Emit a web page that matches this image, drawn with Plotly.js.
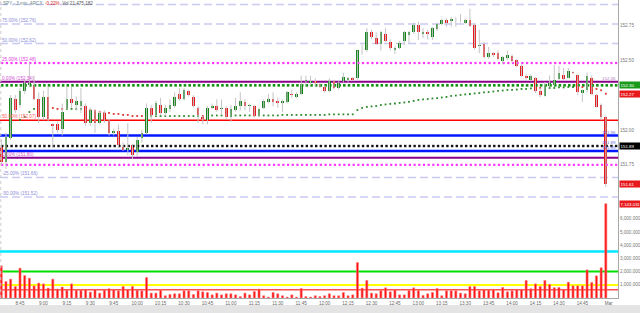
<!DOCTYPE html>
<html><head><meta charset="utf-8">
<script src="https://cdn.plot.ly/plotly-3.0.1.min.js"></script>
<style>html,body{margin:0;padding:0;background:#fff;}#chart{width:640px;height:313px;}</style>
</head><body><div id="chart"></div>
<script>
// ---- data: SPY 3-min bars, bar 1 = 8:33 ... bar 130 = 15:00 ----
const openP = [151.88,151.77,151.94,152.22,152.18,152.28,152.32,152.32,152.22,152.09,
152.24,152.04,152.04,152.01,152.16,152.22,152.18,152.17,152.17,152.05,
152.13,152.05,152.12,152.07,151.98,151.99,151.88,151.86,151.89,151.84,
151.94,151.98,152.16,152.11,152.18,152.12,152.15,152.17,152.26,152.22,
152.28,152.24,152.16,152.09,152.07,152.16,152.17,152.15,152.16,152.09,
152.14,152.17,152.20,152.17,152.17,152.10,152.16,152.20,152.22,152.21,
152.19,152.20,152.26,152.24,152.26,152.35,152.34,152.35,152.33,152.31,
152.28,152.35,152.30,152.35,152.36,152.37,152.37,152.57,152.57,152.70,
152.66,152.62,152.69,152.63,152.575,152.59,152.64,152.68,152.70,152.755,
152.69,152.70,152.67,152.725,152.76,152.79,152.78,152.78,152.78,152.77,
152.79,152.75,152.60,152.62,152.52,152.55,152.55,152.495,152.515,152.53,
152.50,152.46,152.39,152.36,152.37,152.28,152.245,152.315,152.325,152.365,
152.395,152.375,152.415,152.395,152.265,152.285,152.37,152.25,152.18,152.09];
const highP = [151.93,151.98,152.25,152.25,152.30,152.36,152.48,152.39,152.27,152.28,
152.31,152.05,152.06,152.19,152.31,152.31,152.24,152.30,152.19,152.16,
152.15,152.14,152.14,152.08,152.01,152.04,151.91,152.05,151.90,151.95,
152.00,152.19,152.18,152.21,152.23,152.18,152.22,152.27,152.30,152.30,
152.29,152.25,152.17,152.10,152.17,152.19,152.22,152.22,152.17,152.18,
152.23,152.27,152.22,152.19,152.18,152.16,152.22,152.26,152.27,152.23,
152.22,152.28,152.29,152.27,152.39,152.39,152.39,152.37,152.34,152.32,
152.37,152.36,152.35,152.41,152.38,152.38,152.57,152.61,152.73,152.72,
152.70,152.71,152.73,152.65,152.60,152.64,152.71,152.71,152.77,152.775,
152.73,152.72,152.74,152.77,152.80,152.80,152.81,152.81,152.83,152.80,
152.87,152.76,152.72,152.63,152.595,152.56,152.57,152.53,152.57,152.54,
152.51,152.47,152.40,152.40,152.38,152.30,152.345,152.39,152.466,152.46,
152.445,152.445,152.42,152.40,152.29,152.41,152.39,152.26,152.19,152.10];
const lowP = [151.75,151.72,151.93,152.12,152.16,152.26,152.31,152.215,152.05,152.07,
152.06,151.87,151.98,151.96,152.15,152.16,152.14,152.12,152.03,152.03,
151.98,152.04,152.05,151.96,151.96,151.87,151.85,151.82,151.79,151.81,
151.91,151.97,152.05,152.10,152.11,152.10,152.13,152.16,152.21,152.21,
152.24,152.16,152.05,152.04,152.04,152.15,152.13,152.11,152.08,152.06,
152.13,152.14,152.14,152.13,152.09,152.09,152.15,152.19,152.17,152.16,
152.13,152.19,152.23,152.23,152.25,152.32,152.32,152.31,152.30,152.27,
152.27,152.29,152.29,152.34,152.34,152.35,152.36,152.54,152.56,152.65,
152.61,152.57,152.63,152.57,152.545,152.58,152.61,152.625,152.69,152.645,
152.66,152.65,152.645,152.71,152.75,152.74,152.74,152.74,152.77,152.76,
152.74,152.575,152.55,152.515,152.51,152.52,152.50,152.47,152.50,152.48,
152.45,152.38,152.36,152.35,152.265,152.235,152.24,152.31,152.32,152.36,
152.355,152.37,152.40,152.25,152.20,152.27,152.25,152.16,152.07,151.59];
const closeP = [151.77,151.95,152.23,152.14,152.28,152.34,152.34,152.22,152.09,152.24,
152.08,152.03,152.00,152.13,152.22,152.19,152.21,152.21,152.05,152.14,
152.05,152.12,152.07,151.98,151.99,151.89,151.86,151.87,151.82,151.93,
151.98,152.16,152.11,152.19,152.12,152.16,152.18,152.24,152.22,152.29,
152.25,152.17,152.11,152.08,152.16,152.17,152.14,152.16,152.09,152.15,
152.17,152.21,152.17,152.18,152.10,152.15,152.21,152.22,152.20,152.19,
152.21,152.27,152.25,152.26,152.33,152.36,152.35,152.34,152.31,152.28,
152.35,152.30,152.34,152.38,152.37,152.36,152.57,152.575,152.70,152.67,
152.62,152.70,152.64,152.59,152.59,152.625,152.70,152.70,152.755,152.70,
152.70,152.69,152.73,152.76,152.79,152.77,152.795,152.785,152.785,152.79,
152.745,152.59,152.61,152.52,152.55,152.54,152.51,152.52,152.54,152.495,
152.46,152.39,152.375,152.39,152.28,152.25,152.32,152.335,152.36,152.41,
152.365,152.42,152.41,152.275,152.285,152.385,152.26,152.165,152.09,151.61];
const volume = [2440000,1250000,1430000,870000,2260000,1700000,1500000,920000,1130000,1070000,
750000,1430000,670000,830000,600000,1070000,600000,600000,650000,450000,
650000,370000,600000,700000,650000,550000,870000,650000,870000,600000,
550000,1550000,370000,370000,600000,170000,270000,320000,320000,550000,
550000,270000,550000,470000,420000,240000,370000,240000,320000,320000,
240000,110000,370000,240000,490000,670000,170000,70000,420000,320000,
170000,70000,240000,70000,720000,110000,70000,170000,110000,170000,
320000,170000,170000,420000,170000,240000,2690000,740000,1330000,370000,
320000,570000,770000,470000,620000,240000,240000,570000,770000,570000,
200000,320000,420000,720000,170000,550000,550000,550000,370000,320000,
870000,870000,550000,650000,600000,650000,400000,800000,470000,550000,
650000,650000,1330000,700000,1070000,870000,1330000,1030000,780000,800000,
650000,1200000,920000,920000,920000,2130000,1180000,1680000,2290000,7143031];
const movingAvg = [null,null,null,null,152.072,152.093,152.129,152.151,152.158,152.158,
152.158,152.158,152.151,152.151,152.151,152.151,152.151,152.151,152.143,152.143,
152.136,152.129,152.122,152.122,152.115,152.115,152.108,152.108,152.100,152.100,
152.100,152.100,152.100,152.100,152.100,152.100,152.100,152.100,152.100,152.100,
152.100,152.100,152.100,152.100,152.100,152.104,152.104,152.104,152.104,152.104,
152.104,152.104,152.104,152.104,152.104,152.104,152.104,152.104,152.104,152.104,
152.108,152.108,152.108,152.108,152.108,152.108,152.108,152.108,152.108,152.108,
152.112,152.112,152.112,152.112,152.112,152.112,152.143,152.158,152.165,152.169,
152.172,152.179,152.183,152.187,152.190,152.194,152.197,152.201,152.208,152.215,
152.219,152.222,152.226,152.229,152.233,152.237,152.244,152.247,152.251,152.255,
152.258,152.262,152.265,152.269,152.272,152.276,152.280,152.283,152.287,152.287,
152.290,152.294,152.294,152.298,152.298,152.301,152.301,152.301,152.301,152.305,
152.305,152.308,152.308,152.308,152.308,152.308,152.301,152.294,152.285,152.26];
const tickBars = [5,10,15,20,25,30,35,40,45,50,55,60,65,70,75,80,85,90,95,100,105,110,115,120,125,130.6];
const tickLabels = ["8:45","9:00","9:15","9:30","9:45","10:00","10:15","10:30","10:45","11:00","11:15","11:30","11:45",
"12:00","12:15","12:30","12:45","13:00","13:15","13:30","13:45","14:00","14:15","14:30","14:45","Mar"];
// horizontal study levels (price)
const dashedLevels = [152.90,152.76,152.62,151.66,151.52];
const dashedLabels = ["","75.00% (152.76)","50.00% (152.62)","-25.00% (151.66)","-50.00% (151.52)"];
const magentaDotLevels = [152.48,151.75];
const magentaDotLabels = ["25.00% (152.48)",""];
const purpleLevels = [152.345,151.80];
const purpleLabels = ["0.00% (152.34)","0.00% (151.80)"];
const redLevel = 152.07, redLabel = "50.00% (152.07)";
const blueLevels = [151.96,151.85];
const greenDotLevel = 152.32, greenDotText = "152.30";
const blackDotLevel = 151.885, blackDotText = "151.89";
const maLastText = "152.27";
const lastPriceText = "151.61";
const volLevels = [3520000,2000000,990000,620000];
const volMaxText = "7,143,031";
const titleParts = ["SPY - 3 min. ARCX", "-0.22%", "Vol:21,475,182"];

// ---- build ----
const n = closeP.length;
const bars = Array.from({length:n},(_,k)=>k+1);
const GREEN = '#13841a', RED = '#e8191c';
const wx=[], wy=[];
for (let k=0;k<n;k++){ wx.push(bars[k],bars[k],null); wy.push(lowP[k],highP[k],null); }
const bodyBase = bars.map((_,k)=>Math.min(openP[k],closeP[k]));
const bodyH = bars.map((_,k)=>Math.max(Math.abs(closeP[k]-openP[k]),0.005));
const bodyCol = bars.map((_,k)=>closeP[k]>=openP[k]?GREEN:RED);
const maCol = bars.map((_,k)=>closeP[k]>=(movingAvg[k]||0)?'#2e8b2e':'#e03030');

const traces = [];
const dotBars = Array.from({length:134},(_,k)=>k+0.2);
function dotLine(level,color,size){ return {x:dotBars, y:dotBars.map(()=>level), type:'scatter', mode:'markers',
  marker:{symbol:'square',size:size,color:color}, hoverinfo:'skip', showlegend:false, xaxis:'x', yaxis:'y'}; }
traces.push(dotLine(greenDotLevel,'#0f8f0f',2.6));
traces.push(dotLine(blackDotLevel,'#111111',2.4));
magentaDotLevels.forEach(l=>traces.push(dotLine(l,'#ff33ff',2.2)));
traces.push({x:bars, y:movingAvg, type:'scatter', mode:'markers', marker:{symbol:'square',size:1.8,color:maCol},
  hoverinfo:'skip', showlegend:false, yaxis:'y'});
traces.push({x:wx, y:wy, type:'scatter', mode:'lines', line:{color:'#c4c4c4',width:1}, hoverinfo:'skip', showlegend:false, yaxis:'y'});
traces.push({x:bars, y:bodyH, base:bodyBase, type:'bar', width:0.58, marker:{color:bodyCol,line:{width:0}},
  hoverinfo:'skip', showlegend:false, yaxis:'y'});
traces.push({x:bars, y:volume, type:'bar', width:0.45, marker:{color:'#ff1010',line:{width:0.6,color:'#ff8080'}},
  hoverinfo:'skip', showlegend:false, yaxis:'y2'});

const shapes = [];
function hline(yref,y,color,width,dash){ shapes.push({type:'line',xref:'paper',x0:0,x1:1,yref:yref,y0:y,y1:y,
  line:{color:color,width:width,dash:dash||'solid'},layer:'below'}); }
dashedLevels.forEach(l=>hline('y',l,'#c9c9f2',1.5,'8px,4px'));
purpleLevels.forEach(l=>hline('y',l,'#8a008a',2));
hline('y',redLevel,'#ff0000',1.5);
blueLevels.forEach(l=>hline('y',l,'#0018ff',2.5));
const volColors = ['#00e8ff','#00e000','#ffff00','#ff5050'];
const volWidths = [2.5,2,2,1.5];
volLevels.forEach((l,k)=>hline('y2',l,volColors[k],volWidths[k]));
shapes.push({type:'line',xref:'x',x0:0.9,x1:0.9,yref:'paper',y0:0,y1:1,line:{color:'#cccccc',width:1,dash:'3px,3px'}});
shapes.push({type:'rect',xref:'paper',x0:-0.01,x1:1.05,yref:'paper',y0:-0.06,y1:-0.0235,fillcolor:'#e4e4e4',line:{width:0},layer:'below'});

const ann = [];
const F = 'Liberation Sans, Arial, sans-serif';
function leftLabel(y,text,color){ if(!text) return; ann.push({xref:'paper',x:0,xanchor:'left',xshift:1,yref:'y',y:y,yanchor:'bottom',
  text:text,showarrow:false,font:{family:F,size:4.6,color:color},borderpad:0}); }
dashedLevels.forEach((l,k)=>leftLabel(l,dashedLabels[k],'#8d8dd8'));
magentaDotLevels.forEach((l,k)=>leftLabel(l,magentaDotLabels[k],'#e040e0'));
purpleLevels.forEach((l,k)=>leftLabel(l,purpleLabels[k],'#d050d0'));
leftLabel(redLevel,redLabel,'#ff5a5a');
function box(yref,y,text,bg){ ann.push({xref:'paper',x:1,xanchor:'left',xshift:1,yref:yref,y:y,yanchor:'middle',
  text:text,showarrow:false,bgcolor:bg,borderpad:0.5,width:19,align:'left',font:{family:F,size:4.4,color:'#ffffff'}}); }
box('y',greenDotLevel,greenDotText,'#1a9a1a');
box('y',movingAvg[n-1],maLastText,'#e8191c');
box('y',blackDotLevel,blackDotText,'#000000');
box('y',closeP[n-1],lastPriceText,'#e8191c');
box('y2',volume[n-1],volMaxText,'#e8191c');
function inLabel(y,text,color){ ann.push({xref:'paper',x:1,xanchor:'right',xshift:-1,yref:'y',y:y,yanchor:'bottom',
  text:text,showarrow:false,font:{family:F,size:4.4,color:color},borderpad:0}); }
inLabel(purpleLevels[0],'152.36','#b080c0');
inLabel(blueLevels[0],'151.96','#7070e0');
inLabel(blackDotLevel,'151.89','#7070e0');
inLabel(blueLevels[1],'151.85','#7070e0');
ann.push({xref:'paper',x:0,xanchor:'left',xshift:1,yref:'paper',y:1,yanchor:'top',yshift:1,showarrow:false,
  text:'<span style="color:#6a8a8a">'+titleParts[0]+'</span>  <span style="color:#e02020">'+titleParts[1]+'</span>  <span style="color:#555">'+titleParts[2]+'</span>',
  font:{family:F,size:4.6,color:'#666'}});

const layout = {
  width:640, height:313, margin:{l:0,r:22,t:0,b:15,pad:0},
  paper_bgcolor:'#ffffff', plot_bgcolor:'#ffffff', showlegend:false, barmode:'overlay', bargap:0,
  font:{family:F,size:4.6,color:'#666'},
  xaxis:{range:[0.73,132.6], anchor:'y2', tickvals:tickBars, ticktext:tickLabels, showgrid:false, zeroline:false,
    showline:true, linecolor:'#a8a8a8', linewidth:1, ticks:'', tickfont:{size:4.6,color:'#666'}, fixedrange:true},
  yaxis:{domain:[0.3322,1], range:[151.505,152.932], side:'right', tickvals:[151.75,152.0,152.25,152.5,152.75],
    ticktext:['151.75','152.00','152.25','152.50','152.75'], showgrid:false, zeroline:false, showline:true,
    linecolor:'#a8a8a8', linewidth:1, ticks:'', tickfont:{size:4.6,color:'#777'}},
  yaxis2:{domain:[0,0.3322], range:[0,7.5e6], side:'right', tickvals:[1e6,2e6,3e6,4e6,5e6,6e6], tickformat:',d',
    showgrid:false, zeroline:false, showline:true, linecolor:'#a8a8a8', linewidth:1, ticks:'', tickfont:{size:4.6,color:'#777'}},
  shapes:shapes, annotations:ann
};
Plotly.newPlot('chart', traces, layout, {staticPlot:true, displayModeBar:false});
</script></body></html>
